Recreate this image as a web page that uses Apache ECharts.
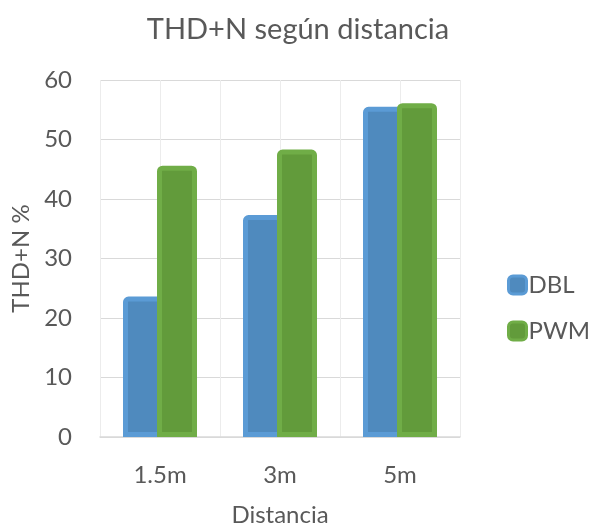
<!DOCTYPE html>
<html><head><meta charset="utf-8">
<script src="https://cdn.jsdelivr.net/npm/echarts@6/dist/echarts.min.js"></script>
<style>html,body{margin:0;padding:0;background:#fff}#c{width:590px;height:527px}</style>
</head><body><div id="c"></div>
<script>
const categories = ['1.5m', '3m', '5m'];
const dblValues = [23.6, 37.3, 55.5];
const pwmValues = [45.6, 48.3, 56.1];
const yTicks = [0, 10, 20, 30, 40, 50, 60];

const FONT = 'Lato';
const TXT = '#595959';
const chart = echarts.init(document.getElementById('c'));
chart.setOption({
  animation: false,
  backgroundColor: '#fff',
  title: {
    text: 'THD+N según distancia', left: 293, top: 10, textAlign: 'center',
    textStyle: { fontFamily: FONT, fontSize: 29, fontWeight: 'normal', color: TXT }
  },
  legend: {
    orient: 'vertical', left: 502, top: 268, itemGap: 22,
    itemWidth: 18, itemHeight: 18, icon: 'roundRect',
    itemStyle: { borderWidth: 3 },
    textStyle: { fontFamily: FONT, fontSize: 24, color: TXT, padding: [0, 0, 0, -3] },
    data: ['DBL', 'PWM']
  },
  grid: { left: 100, right: 130, top: 80, bottom: 90, outerBoundsMode: 'none', containLabel: false },
  xAxis: [{
    type: 'category', data: categories,
    axisLine: { lineStyle: { color: '#d9d9d9', width: 1.5 } },
    axisTick: { show: false },
    axisLabel: { fontFamily: FONT, fontSize: 24, color: TXT, margin: 26 },
    splitLine: { show: false },
    name: 'Distancia', nameLocation: 'middle', nameGap: 66,
    nameTextStyle: { fontFamily: FONT, fontSize: 24, color: TXT }
  }, {
    type: 'value', min: 0, max: 6, interval: 1, position: 'bottom',
    axisLine: { show: false }, axisTick: { show: false }, axisLabel: { show: false },
    splitLine: { show: true, lineStyle: { color: '#ececec', width: 1 } }
  }],
  yAxis: {
    type: 'value', min: yTicks[0], max: yTicks[yTicks.length - 1], interval: 10,
    axisLine: { show: false }, axisTick: { show: false },
    axisLabel: { fontFamily: FONT, fontSize: 24, color: TXT, margin: 28 },
    splitLine: { lineStyle: { color: '#d9d9d9', width: 1 } },
    name: 'THD+N %', nameLocation: 'middle', nameGap: 64, nameRotate: 90,
    nameTextStyle: { fontFamily: FONT, fontSize: 24, color: TXT }
  },
  series: [{
    name: 'DBL', type: 'bar', data: dblValues, xAxisIndex: 0,
    barWidth: 40, barGap: '-15%',
    itemStyle: { color: '#4f8abe', borderColor: '#5b9bd5', borderWidth: 5, borderRadius: [3, 3, 0, 0] }
  }, {
    name: 'PWM', type: 'bar', data: pwmValues, xAxisIndex: 0,
    barWidth: 40, barGap: '-15%',
    itemStyle: { color: '#629b3b', borderColor: '#70ad47', borderWidth: 5, borderRadius: [3, 3, 0, 0] }
  }]
});
</script></body></html>
